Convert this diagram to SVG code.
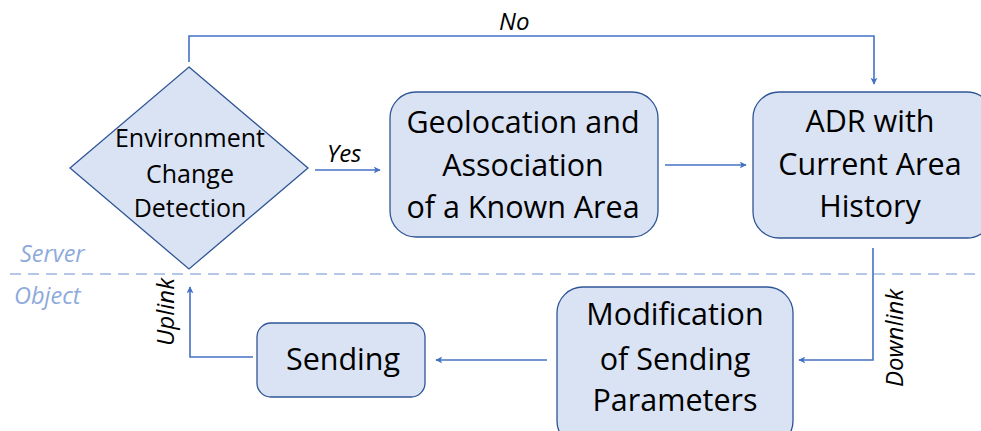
<svg xmlns="http://www.w3.org/2000/svg" width="981" height="431" viewBox="0 0 981 431">
<style>
.node{fill:#dae3f3;stroke:#2f5597;stroke-width:1.3}
.t{font-family:"Open Sans","Liberation Sans",sans-serif;fill:#000;text-anchor:middle}
.big{font-size:30.5px}
.small{font-size:25px}
.lab{font-family:"Open Sans","Liberation Sans",sans-serif;font-style:italic;font-size:24px;fill:#000}
.lane{font-family:"Open Sans","Liberation Sans",sans-serif;font-style:italic;font-size:23.5px;fill:#8eaadb}
.conn{fill:none;stroke:#4472c4;stroke-width:1.6;marker-end:url(#ah)}
</style>
<defs>
<marker id="ah" viewBox="0 0 10 10" refX="9" refY="5" markerWidth="7" markerHeight="7" markerUnits="userSpaceOnUse" orient="auto">
<path d="M0,0 L10,5 L0,10 L2.5,5 z" fill="#4472c4"/>
</marker>
</defs>
<rect width="981" height="431" fill="#fff"/>
<line x1="10" y1="274" x2="981" y2="274" stroke="#b4c7e7" stroke-width="2" stroke-dasharray="11,7"/>
<text class="lane" x="20" y="262">Server</text>
<text class="lane" x="14" y="304">Object</text>
<g id="connectors">
<path class="conn" d="M189,62 V36 H874 V84"/>
<path class="conn" d="M315,170 H380"/>
<path class="conn" d="M665,165 H746"/>
<path class="conn" d="M873,248 V360 H799"/>
<path class="conn" d="M547,360 H436"/>
<path class="conn" d="M253,357 H190 V287"/>
<text class="lab" x="499" y="30">No</text>
<text class="lab" x="327" y="162">Yes</text>
<text class="lab" transform="translate(903,338) rotate(-90)" text-anchor="middle">Downlink</text>
<text class="lab" transform="translate(174,312) rotate(-90)" text-anchor="middle">Uplink</text>
</g>
<g id="env">
<polygon class="node" points="189,67 308,168 189,269 70,168"/>
<text class="t small" x="190" y="147">Environment</text>
<text class="t small" x="190" y="183">Change</text>
<text class="t small" x="190" y="217">Detection</text>
</g>
<g id="geo">
<rect class="node" x="390" y="92" width="268" height="145" rx="26"/>
<text class="t big" x="523" y="133">Geolocation and</text>
<text class="t big" x="523" y="176">Association</text>
<text class="t big" x="523" y="218">of a Known Area</text>
</g>
<g id="adr">
<rect class="node" x="753" y="92" width="240" height="146" rx="26"/>
<text class="t big" x="870" y="132">ADR with</text>
<text class="t big" x="870" y="175">Current Area</text>
<text class="t big" x="870" y="217">History</text>
</g>
<g id="mod">
<rect class="node" x="557" y="287" width="236" height="160" rx="26"/>
<text class="t big" x="675" y="325">Modification</text>
<text class="t big" x="675" y="370">of Sending</text>
<text class="t big" x="675" y="411">Parameters</text>
</g>
<g id="send">
<rect class="node" x="257" y="323" width="168" height="74" rx="14"/>
<text class="t big" x="343" y="370">Sending</text>
</g>
</svg>
